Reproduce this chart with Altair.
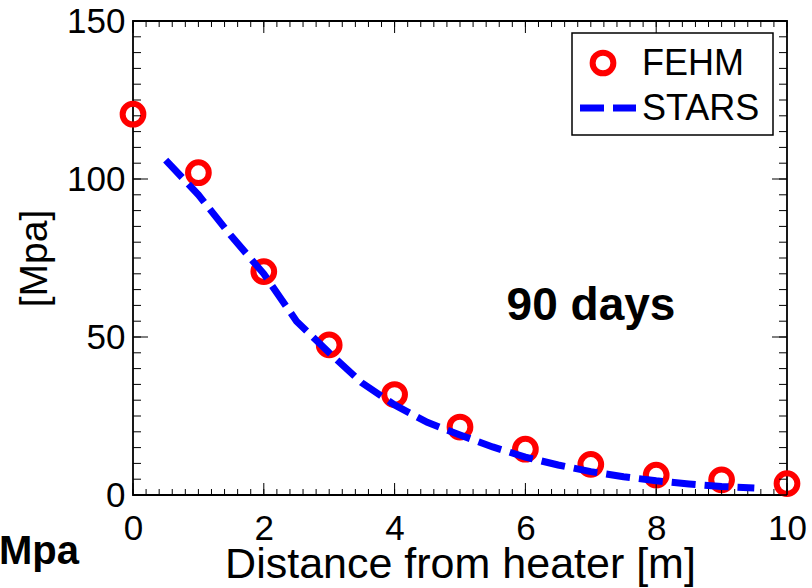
import altair as alt
import pandas as pd

# ---------------- data ----------------
fehm_x = [0, 1, 2, 3, 4, 5, 6, 7, 8, 9, 10]
fehm_y = [120.5, 102, 70.7, 47.5, 31.8, 21.5, 14.5, 9.7, 6.3, 4.8, 3.6]

stars_x = [0.5, 1, 1.5, 2, 2.5, 3, 3.5, 4, 4.5, 5, 5.5, 6, 6.5, 7, 7.5, 8, 8.5, 9, 9.5]
stars_y = [106, 95, 82, 70, 55, 45, 35.5, 28.5, 23, 19, 15.2, 12, 9.5, 7.4, 5.8, 4.5, 3.5, 2.7, 2.2]

x_major = [0, 2, 4, 6, 8, 10]
y_major = [0, 50, 100, 150]
x_minor = [round(i * 0.2, 1) for i in range(51)]
y_minor = list(range(0, 151, 5))

legend_labels = ["FEHM", "STARS"]
annotation = "90 days"
side_label = "Mpa"
x_title = "Distance from heater [m]"
y_title = "[Mpa]"

FONT = "Liberation Sans"
RED = "#ff0000"
BLUE = "#0000ff"
W, H = 654, 474

df_f = pd.DataFrame({"x": fehm_x, "y": fehm_y})
df_s = pd.DataFrame({"x": stars_x, "y": stars_y})
one = pd.DataFrame({"a": [0]})

xs = alt.Scale(domain=[0, 10], nice=False, zero=False)
ys = alt.Scale(domain=[0, 150], nice=False, zero=False)

# main circles with label axes
circles = alt.Chart(df_f).mark_point(
    shape="circle", filled=False, color=RED, size=430, strokeWidth=6, opacity=1
).encode(
    x=alt.X("x:Q", scale=xs, axis=alt.Axis(
        orient="bottom", values=x_major, ticks=False, domain=False, grid=False,
        labelFont=FONT, labelFontSize=35, labelColor="black", labelPadding=16,
        labelFlush=False, labelOverlap=False,
        title=x_title, titleFont=FONT, titleFontSize=43, titleFontWeight="normal",
        titleColor="black", titleBaseline="alphabetic", titleY=82)),
    y=alt.Y("y:Q", scale=ys, axis=alt.Axis(
        orient="left", values=y_major, ticks=False, domain=False, grid=False,
        labelFont=FONT, labelFontSize=35, labelColor="black", labelPadding=8,
        labelFlush=False, labelOverlap=False,
        title=y_title, titleFont=FONT, titleFontSize=39, titleFontWeight="normal",
        titleColor="black", titlePadding=12)),
)

line = alt.Chart(df_s).mark_line(
    color=BLUE, strokeWidth=7, strokeDash=[24, 9], strokeCap="butt"
).encode(
    x=alt.X("x:Q", scale=xs, axis=None),
    y=alt.Y("y:Q", scale=ys, axis=None),
)


# inward ticks on all four sides (MATLAB style box)
def xticks(values, y0, y1):
    return alt.Chart(pd.DataFrame({"x": values})).mark_rule(color="black", strokeWidth=1).encode(
        x=alt.X("x:Q", scale=xs, axis=None), y=alt.value(y0), y2=alt.value(y1))


def yticks(values, x0, x1):
    return alt.Chart(pd.DataFrame({"y": values})).mark_rule(color="black", strokeWidth=1).encode(
        y=alt.Y("y:Q", scale=ys, axis=None), x=alt.value(x0), x2=alt.value(x1))


ticks = [
    xticks(x_minor, H, H - 6), xticks(x_major, H, H - 12),
    xticks(x_minor, 0, 6), xticks(x_major, 0, 12),
    yticks(y_minor, 0, 8), yticks(y_major, 0, 15),
    yticks(y_minor, W, W - 8), yticks(y_major, W, W - 15),
]

# legend (manual)
leg_box = alt.Chart(one).mark_rect(fill="white", stroke="black", strokeWidth=1.5).encode(
    x=alt.value(439), x2=alt.value(640), y=alt.value(12), y2=alt.value(114))
leg_circle = alt.Chart(one).mark_point(
    shape="circle", filled=False, color=RED, size=430, strokeWidth=6, opacity=1
).encode(x=alt.value(470), y=alt.value(42))
leg_line = alt.Chart(one).mark_rule(
    color=BLUE, strokeWidth=7, strokeDash=[24, 9], strokeCap="butt"
).encode(x=alt.value(447), x2=alt.value(503), y=alt.value(87))
leg_text1 = alt.Chart(one).mark_text(
    text=legend_labels[0], font=FONT, fontSize=36, align="left", baseline="middle", color="black"
).encode(x=alt.value(509), y=alt.value(43))
leg_text2 = alt.Chart(one).mark_text(
    text=legend_labels[1], font=FONT, fontSize=36, align="left", baseline="middle", color="black"
).encode(x=alt.value(509), y=alt.value(88))

ann = alt.Chart(one).mark_text(
    text=annotation, font=FONT, fontSize=46, fontWeight="bold", align="center",
    baseline="alphabetic", color="black"
).encode(x=alt.value(458), y=alt.value(299))

side = alt.Chart(one).mark_text(
    text=side_label, font=FONT, fontSize=40, fontWeight="bold", align="left",
    baseline="alphabetic", color="black"
).encode(x=alt.value(-134), y=alt.value(543))

chart = alt.layer(
    circles, *ticks, line,
    leg_box, leg_circle, leg_line, leg_text1, leg_text2, ann, side
).resolve_axis(
    x="independent", y="independent"
).properties(
    width=W, height=H,
    autosize=alt.AutoSizeParams(type="none"),
    padding={"left": 133, "top": 21, "right": 25, "bottom": 93},
    background="white",
).configure_view(
    stroke="black", strokeWidth=1.8
)

chart.save("out.html", embed_options={"renderer": "svg", "actions": False})
